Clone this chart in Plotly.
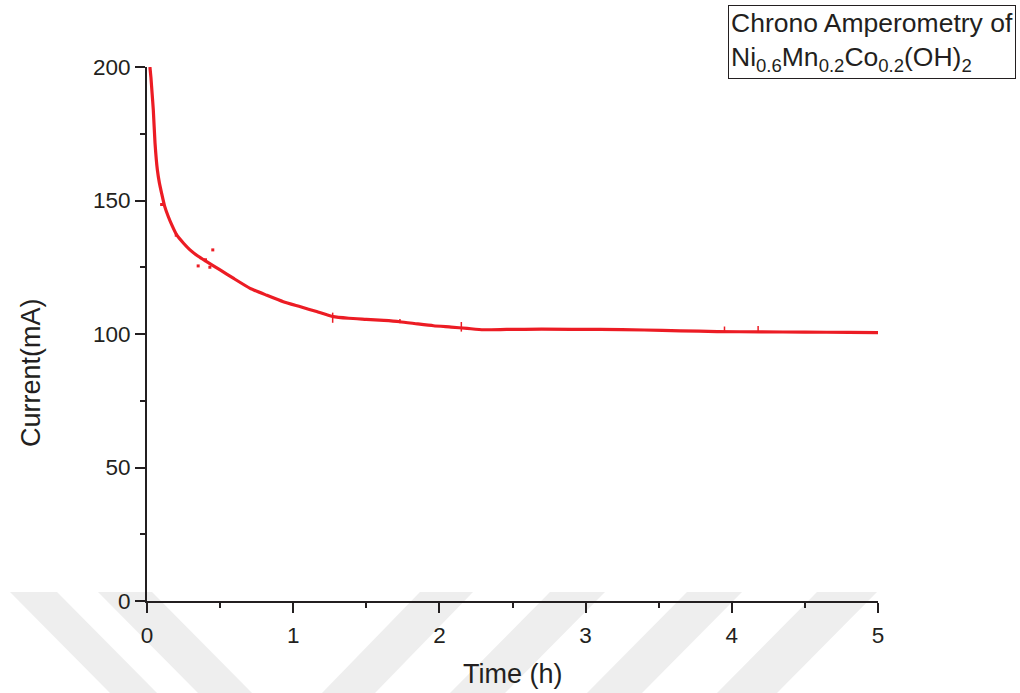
import plotly.graph_objects as go

# ---- data ----
time_h = [0.02, 0.027, 0.035, 0.043, 0.055, 0.071, 0.085, 0.1, 0.12, 0.146,
          0.175, 0.203, 0.25, 0.294, 0.35, 0.408, 0.5, 0.59, 0.705, 0.82,
          0.932, 1.05, 1.16, 1.274, 1.38, 1.5, 1.62, 1.73, 1.85, 1.96,
          2.08, 2.19, 2.3, 2.46, 2.7, 3.1, 3.4, 3.65, 3.9, 4.2,
          4.5, 4.8, 5.0]
current_mA = [200, 196, 190, 184, 171.4, 161.4, 156.5, 152.7, 148.0, 143.9,
              140.2, 137.1, 134.0, 131.5, 129.1, 127.1, 124.0, 120.9, 117.1, 114.5,
              112.1, 110.2, 108.4, 106.5, 105.9, 105.5, 105.1, 104.6, 103.8, 103.1,
              102.6, 102.1, 101.6, 101.7, 101.8, 101.7, 101.5, 101.2, 100.9, 100.8,
              100.7, 100.6, 100.5]

outlier_t = [0.10, 0.20, 0.35, 0.40, 0.45, 0.43]
outlier_i = [148.5, 137.0, 125.5, 127.8, 131.5, 125.0]

spike_t = [1.27, 1.73, 2.15, 3.95, 4.18]
spike_lo = [104.2, 104.0, 100.9, 101.0, 101.0]
spike_hi = [108.0, 105.6, 104.5, 102.8, 103.0]

x_ticks = [0, 1, 2, 3, 4, 5]
y_ticks = [0, 50, 100, 150, 200]

RED = "#ec1c24"
INK = "#231f20"

fig = go.Figure()
fig.add_trace(go.Scatter(x=time_h, y=current_mA, mode="lines",
                         line=dict(color=RED, width=3.2, shape="spline", smoothing=0.5),
                         showlegend=False, hoverinfo="skip"))
fig.add_trace(go.Scatter(x=outlier_t, y=outlier_i, mode="markers",
                         marker=dict(color=RED, size=3, symbol="square"),
                         showlegend=False, hoverinfo="skip"))
sx, sy = [], []
for t, lo, hi in zip(spike_t, spike_lo, spike_hi):
    sx += [t, t, None]
    sy += [lo, hi, None]
fig.add_trace(go.Scatter(x=sx, y=sy, mode="lines", line=dict(color=RED, width=1.5),
                         showlegend=False, hoverinfo="skip"))

# plot area geometry (pixels) for paper-coordinate decorations
L, R, T, B = 147, 878, 67, 601
W, H = R - L, B - T

def px(xp):
    return (xp - L) / W

def py(yp):
    return (B - yp) / H

# faint diagonal watermark stripes at the bottom
stripes = [(10, 57, 100), (98, 152, 100), (420, 473, -98), (550, 605, -100),
           (687, 742, -100), (817, 877, -100)]
for x0, x1, dx in stripes:
    path = (f"M {px(x0)} {py(592)} L {px(x1)} {py(592)} "
            f"L {px(x1 + dx)} {py(693)} L {px(x0 + dx)} {py(693)} Z")
    fig.add_shape(type="path", path=path, xref="paper", yref="paper",
                  fillcolor="#eeeeee", line=dict(width=0), layer="below")

axis_common = dict(showline=True, linecolor=INK, linewidth=2, ticks="outside",
                   ticklen=10, tickwidth=2, tickcolor=INK, showgrid=False,
                   zeroline=False, mirror=False,
                   tickfont=dict(family="Liberation Sans, Arial", size=22.5, color=INK),
                   minor=dict(ticks="outside", ticklen=5, tickwidth=2, tickcolor=INK))

fig.update_xaxes(range=[0, 5], tickvals=x_ticks, ticklabelstandoff=3,
                 minor_dtick=0.5, **axis_common)
fig.update_yaxes(range=[0, 200], tickvals=y_ticks, ticklabelstandoff=0,
                 minor_dtick=25, **axis_common)

fig.add_annotation(text="Time (h)", xref="paper", yref="paper", x=0.5, y=py(674),
                   xanchor="center", yanchor="middle", showarrow=False,
                   font=dict(family="Liberation Sans, Arial", size=27, color=INK))
fig.add_annotation(text="Current(mA)", xref="paper", yref="paper", x=px(31), y=py(373),
                   xanchor="center", yanchor="middle", showarrow=False, textangle=-90,
                   font=dict(family="Liberation Sans, Arial", size=27, color=INK))
fig.add_annotation(text="Chrono Amperometry of<br>Ni<sub>0.6</sub>Mn<sub>0.2</sub>Co<sub>0.2</sub>(OH)<sub>2</sub>",
                   xref="paper", yref="paper", x=px(1016), y=py(5),
                   xanchor="right", yanchor="top", showarrow=False, align="left",
                   bordercolor=INK, borderwidth=1, borderpad=2, bgcolor="white",
                   font=dict(family="Liberation Sans, Arial", size=26.5, color=INK))

fig.update_layout(width=1020, height=693, margin=dict(l=L, r=1020 - R, t=T, b=693 - B),
                  paper_bgcolor="white", plot_bgcolor="rgba(0,0,0,0)")

fig.write_html("out.html")
